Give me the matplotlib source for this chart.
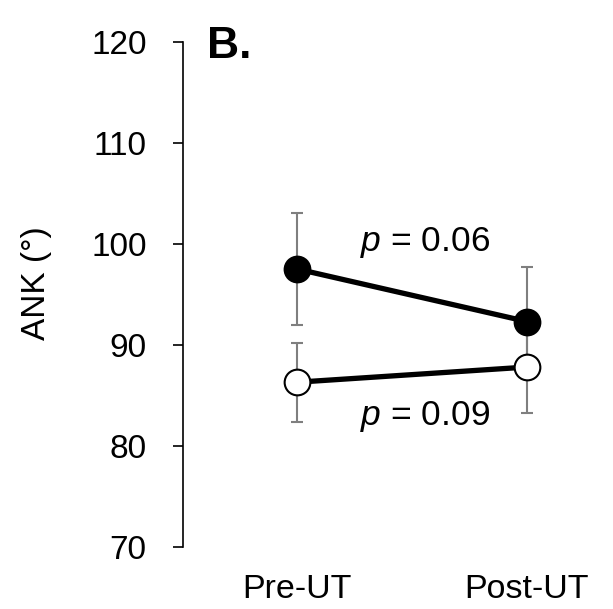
import numpy as np
import matplotlib
matplotlib.use('Agg')
import matplotlib.pyplot as plt

plt.rcParams['font.family'] = ['Liberation Sans', 'DejaVu Sans']
plt.rcParams['mathtext.fontset'] = 'custom'
plt.rcParams['mathtext.it'] = 'Liberation Sans:italic'
plt.rcParams['mathtext.rm'] = 'Liberation Sans'

groups = ['Pre-UT', 'Post-UT']
filled_mean = [97.5, 92.3]
filled_err = [5.5, 5.4]
open_mean = [86.3, 87.8]
open_err = [3.9, 4.5]
p_labels = ['= 0.06', '= 0.09']

fig = plt.figure(figsize=(6.13, 6.09), dpi=100)
ax = fig.add_axes([183/613, 1-547/609, 1-183/613, (547-41.5)/609])

x = np.arange(len(groups))

# error bars first, then lines, markers on top
ax.errorbar(x, filled_mean, yerr=filled_err, fmt='none', ecolor='#7f7f7f',
            elinewidth=1.5, capsize=4.3, capthick=1.5, zorder=1)
ax.errorbar(x, open_mean, yerr=open_err, fmt='none', ecolor='#7f7f7f',
            elinewidth=1.5, capsize=4.3, capthick=1.5, zorder=1)
ax.plot(x, filled_mean, color='black', lw=3.8, zorder=2)
ax.plot(x, open_mean, color='black', lw=3.8, zorder=2)
ax.plot(x, filled_mean, 'o', ms=18.5, mfc='black', mec='black', mew=1.5, zorder=3)
ax.plot(x, open_mean, 'o', ms=18.5, mfc='white', mec='black', mew=1.5, zorder=3)

ax.set_xlim(-0.496, 1.374)
ax.set_ylim(70, 120)
ax.set_yticks(np.arange(70, 121, 10))
ax.set_xticks(x)
ax.set_xticklabels(groups, fontsize=24.5)
ax.tick_params(axis='x', length=0, pad=19.5)
ax.tick_params(axis='y', labelsize=24, length=7.2, width=1.2, pad=19, direction='out')

for s in ['top', 'right', 'bottom']:
    ax.spines[s].set_visible(False)
ax.spines['left'].set_linewidth(1.2)

ax.set_ylabel('ANK (°)', fontsize=24, labelpad=28, y=0.522)

ax.text(0.557, 100.1, r'$p$ ' + p_labels[0], fontsize=25.5, ha='center', va='center')
ax.text(0.557, 82.9, r'$p$ ' + p_labels[1], fontsize=25.5, ha='center', va='center')

fig.text(229/613, 1-46/609, 'B.', fontsize=32, fontweight='bold', ha='center', va='center')

fig.savefig('out.png', dpi=100)
